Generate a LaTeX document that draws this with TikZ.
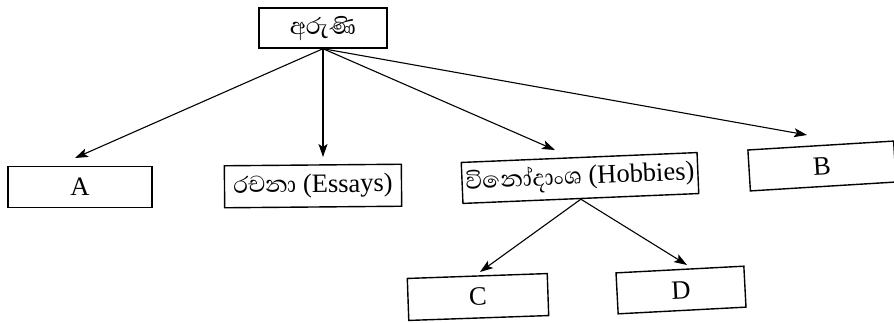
\documentclass[tikz,border=0pt]{standalone}
\usepackage{fontspec}
\setmainfont{Liberation Serif}
\newfontfamily\sinhalafont[Script=Sinhala,Scale=1.12]{Abhaya Libre}
\usetikzlibrary{arrows.meta}
\begin{document}
\begin{tikzpicture}[x=1pt,y=-1pt,
  box/.style={draw,line width=1.4pt,inner sep=0pt,font=\fontsize{26.5}{28}\selectfont},
  arr/.style={line width=1.1pt,-{Stealth[length=13pt,width=9pt,inset=3pt]}}]
\useasboundingbox (0,0) rectangle (894,322);
\node[box,minimum width=128pt,minimum height=40pt] (top) at (323,28) {\sinhalafont අරුණි};
\node[box,minimum width=144pt,minimum height=41pt] (A) at (80,187) {A};
\node[box,minimum width=177pt,minimum height=42pt,rotate=0.5] (E) at (313,186) {{\sinhalafont රචනා} (Essays)};
\node[box,minimum width=236pt,minimum height=41pt,rotate=2.4] (H) at (580,178) {{\sinhalafont විනෝදාංශ} (Hobbies)};
\node[box,minimum width=146pt,minimum height=41pt,rotate=3.5] (B) at (822,166) {B};
\node[box,minimum width=140pt,minimum height=42pt,rotate=2] (C) at (478,297) {C};
\node[box,minimum width=128pt,minimum height=41pt,rotate=3] (D) at (681,290) {D};
\coordinate (tA) at (75,158);
\coordinate (tE) at (323,157);
\coordinate (tH) at (555,150);
\coordinate (tB) at (807,135);
\coordinate (tC) at (480,272);
\coordinate (tD) at (687,265);
\draw[arr] (top.south) -- (tA);
\draw[arr] (top.south) -- (tE);
\draw[arr] (top.south) -- (tH);
\draw[arr] (top.south) -- (tB);
\draw[arr] (H.south) -- (tC);
\draw[arr] (H.south) -- (tD);
\end{tikzpicture}
\end{document}
